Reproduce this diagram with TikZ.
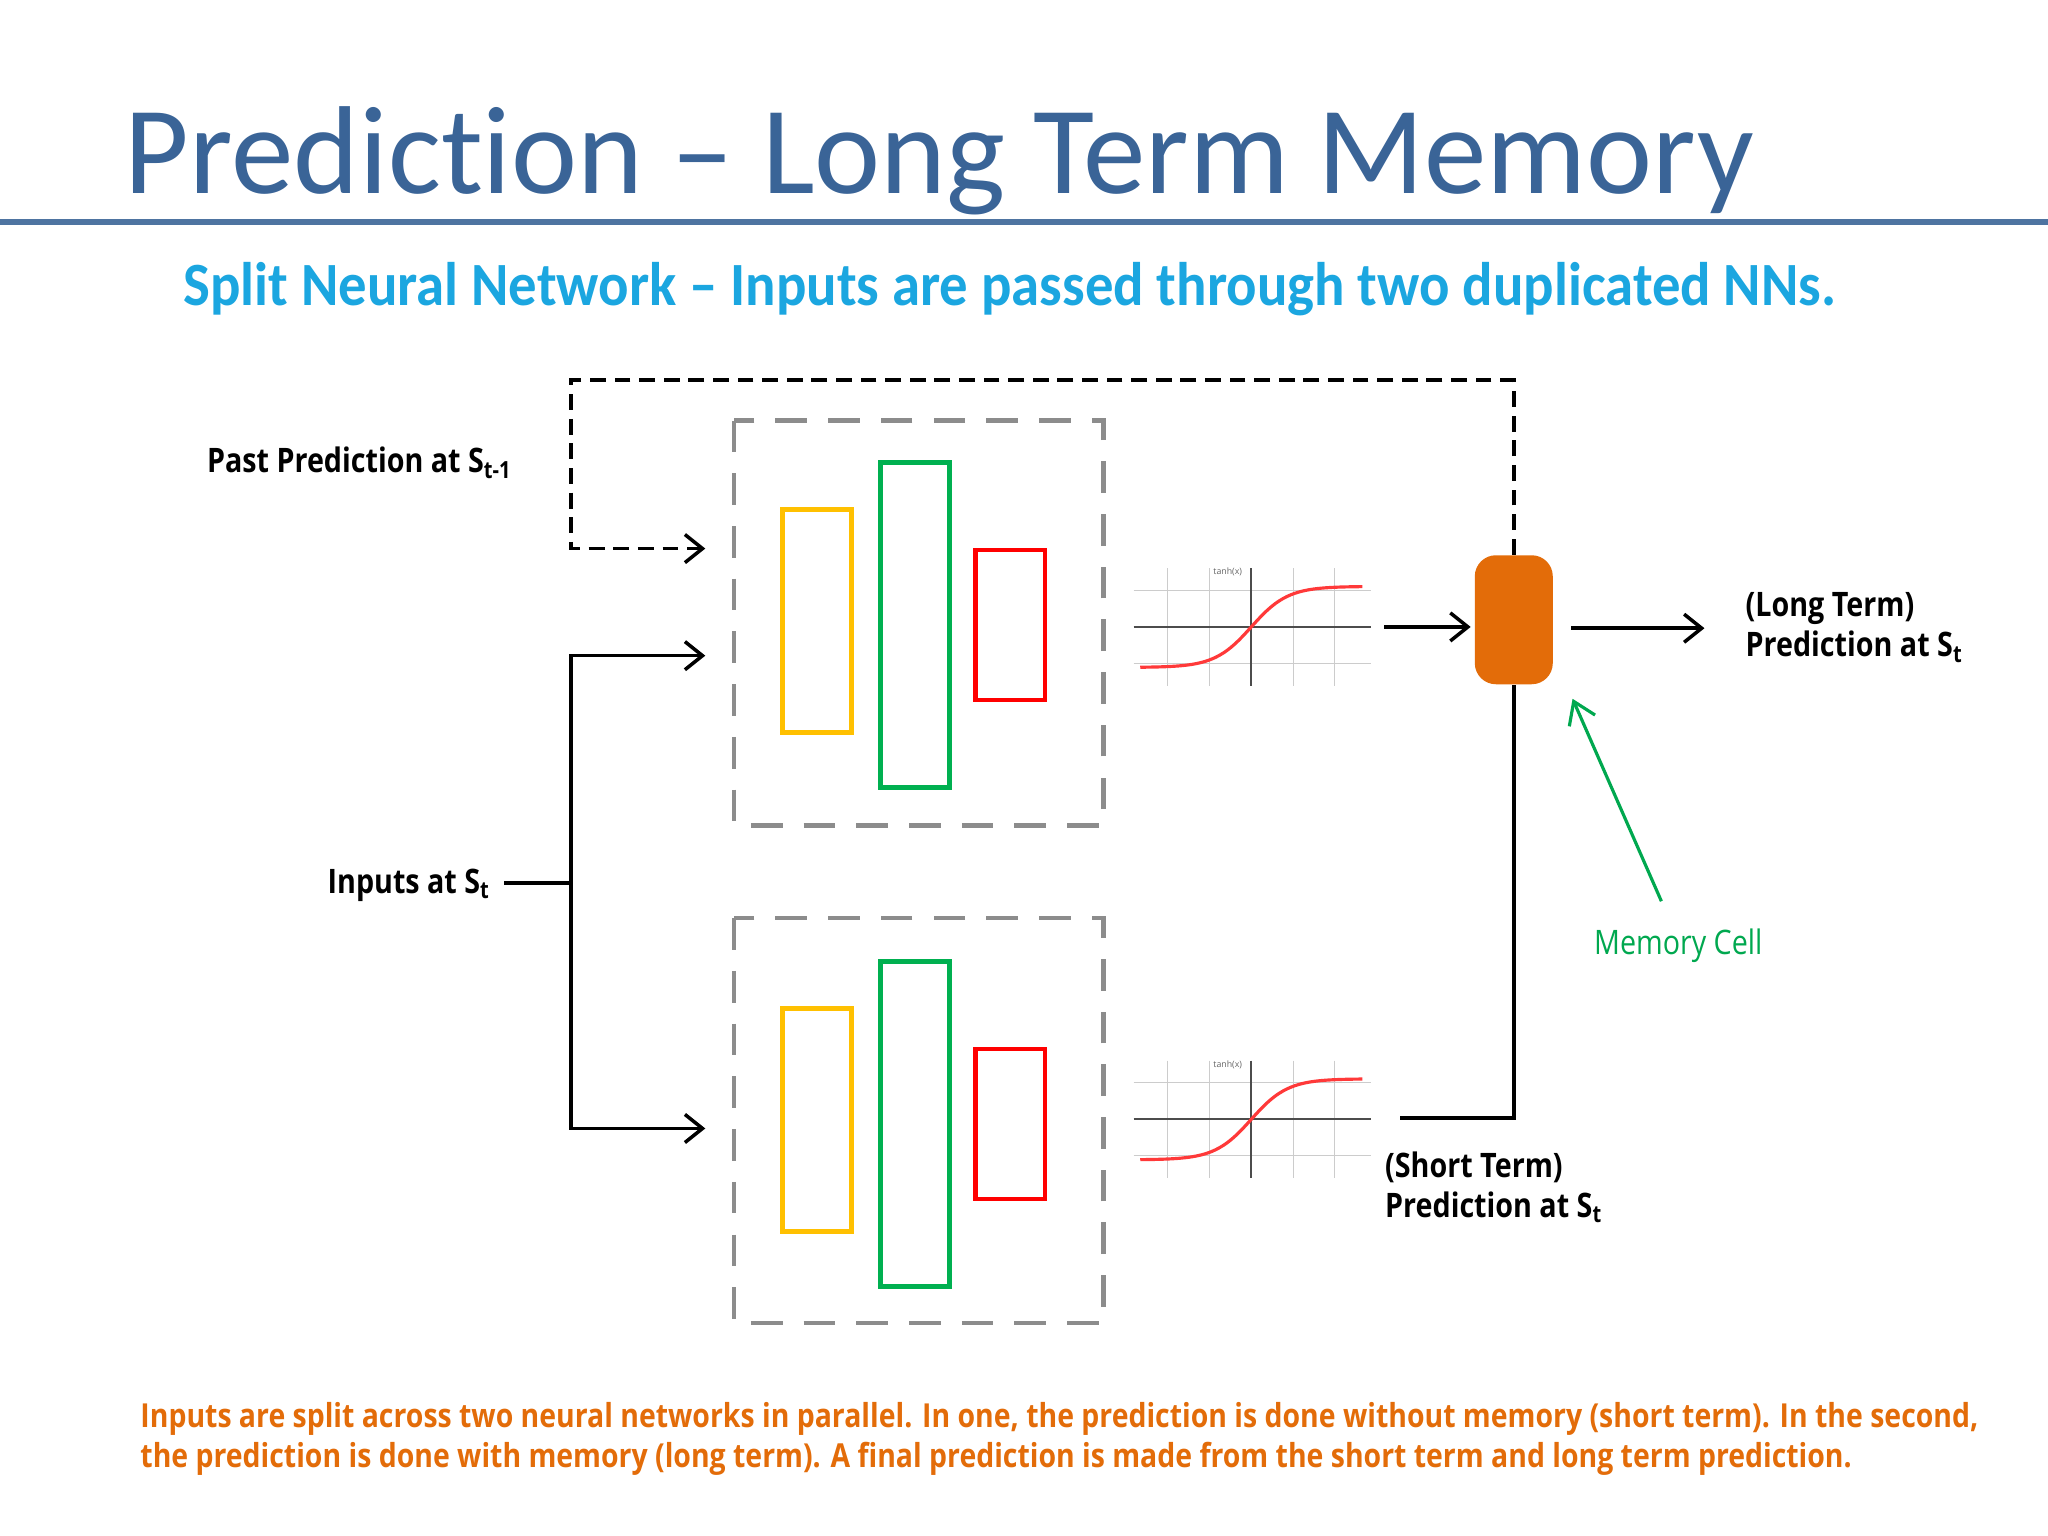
\documentclass[tikz,border=0pt]{standalone}
\usepackage{fontspec}
\setmainfont{Open Sans}
\newfontfamily\calib{Carlito}[RawFeature=-liga]
\usetikzlibrary{arrows.meta}
\definecolor{titleblue}{HTML}{3A6497}
\definecolor{subblue}{HTML}{1BA6E0}
\definecolor{orng}{HTML}{E36C09}
\definecolor{ylw}{HTML}{FFC000}
\definecolor{grn}{HTML}{00B050}
\definecolor{mgreen}{HTML}{00A84F}
\tikzset{
 px/.style={x=0.013061cm,y=-0.013061cm},
 nnbox/.style={draw=gray!90,dashed,line width=1.3pt,dash pattern=on 9pt off 6pt},
 layer/.style={line width=1.3pt},
 arr/.style={-{Straight Barb[length=5pt,width=8pt]},line width=1pt},
 lbl/.style={font=\fontsize{9.6}{11.5}\selectfont\bfseries,align=left,inner sep=0pt},
 tanhax/.style={line width=0.6pt,black!70},
 tanhgrid/.style={line width=0.3pt,black!20},
}
\newcommand{\tanhplot}[2]{%
 \begin{scope}[shift={(#1,#2)}]
  \foreach \g in {-64,-32,32,64}{\draw[tanhgrid] (\g,-45)--(\g,45);}
  \foreach \g in {-28,28}{\draw[tanhgrid] (-90,\g)--(92,\g);}
  \draw[tanhax] (-90,0)--(92,0);
  \draw[tanhax] (0,-45)--(0,45);
  \draw[red!70!pink,line width=0.9pt,domain=-85:85,samples=60,smooth] plot (\x,{-31*tanh(\x/28)});
  \node[font=\fontsize{2.5}{3}\selectfont,black!60,inner sep=0pt] at (-18,-42) {tanh(x)};
 \end{scope}}
\newcommand{\sub}[1]{\textsubscript{#1}}
\newcommand{\nar}[1]{\scalebox{0.85}[1]{#1}}
\begin{document}
\begin{tikzpicture}[px]
\useasboundingbox[fill=white] (0,0) rectangle (1568,1176);
\node[font=\calib\fontsize{35.6}{40}\selectfont,text=titleblue,anchor=base west,inner sep=0pt] (title) at (95,148) {Prediction – Long Term Memory};
\draw[titleblue!90,line width=1.8pt] (0,170)--(1568,170);
\node[font=\calib\bfseries\fontsize{17.5}{20}\selectfont,text=subblue,anchor=base west,inner sep=0pt] (subt) at (140,234) {\scalebox{0.923}[1]{Split Neural Network – Inputs are passed through two duplicated NNs.}};
% NN boxes
\draw[nnbox] (562,322) rectangle (845,632);
\draw[nnbox] (562,703) rectangle (845,1013);
\foreach \d in {0,382}{
 \draw[layer,ylw] (599,390+\d) rectangle (652,561+\d);
 \draw[layer,grn] (674,354+\d) rectangle (727,603+\d);
 \draw[layer,red] (747,421+\d) rectangle (800,536+\d);
}
\tanhplot{958}{480}
\tanhplot{958}{857}
% labels
\node[lbl,anchor=base west] (past) at (158,362) {\nar{Past Prediction at S\sub{t-1}}};
\node[lbl,anchor=base east] (inp) at (376,684) {\nar{Inputs at S\sub{t}}};
\node[lbl,anchor=north west] (lt) at (1336,453) {\nar{(Long Term)}\\\nar{Prediction at S\sub{t}}};
\node[lbl,anchor=north west] (st) at (1060,881) {\nar{(Short Term)}\\\nar{Prediction at S\sub{t}}};
\node[font=\fontsize{9.6}{11.5}\selectfont,text=mgreen,inner sep=0pt,anchor=base west] (mc) at (1220,731) {\nar{Memory Cell}};
% memory cell
\node[fill=orng,rounded corners=6pt,minimum width=0.78cm,minimum height=1.29cm,inner sep=0pt] (cell) at (1159,474.5) {};
\coordinate (in1) at (540,420);
\coordinate (in2) at (540,502);
\coordinate (in3) at (540,864);
\coordinate (j) at (437,676);
\coordinate (cin) at (1126,480);
\draw[arr,dashed,dash pattern=on 4.5pt off 2.5pt] (cell.north) -- (1159,291) -- (437,291) -- (437,420) -- (in1);
\draw[line width=1pt] (inp.east|-j) ++(10,0) -- (j);
\draw[arr] (j) |- (in2);
\draw[arr] (j) |- (in3);
\draw[arr] (1060,480) -- (cin);
\draw[arr] (1203,481) -- (1305,481);
\draw[line width=1.2pt] (1072,856) -- (1159,856) -- (cell.south);
\draw[-{Straight Barb[length=6pt,width=8pt]},mgreen,line width=0.9pt] (1272,690) -- (1204,535);
\node[font=\fontsize{9.4}{11.5}\selectfont\bfseries,text=orng,anchor=north west,align=left,inner sep=0pt] (foot) at (107,1073) {\scalebox{0.86}[1]{Inputs are split across two neural networks in parallel. In one, the prediction is done without memory (short term). In the second,}\\\scalebox{0.86}[1]{the prediction is done with memory (long term). A final prediction is made from the short term and long term prediction.}};
\end{tikzpicture}
\end{document}
